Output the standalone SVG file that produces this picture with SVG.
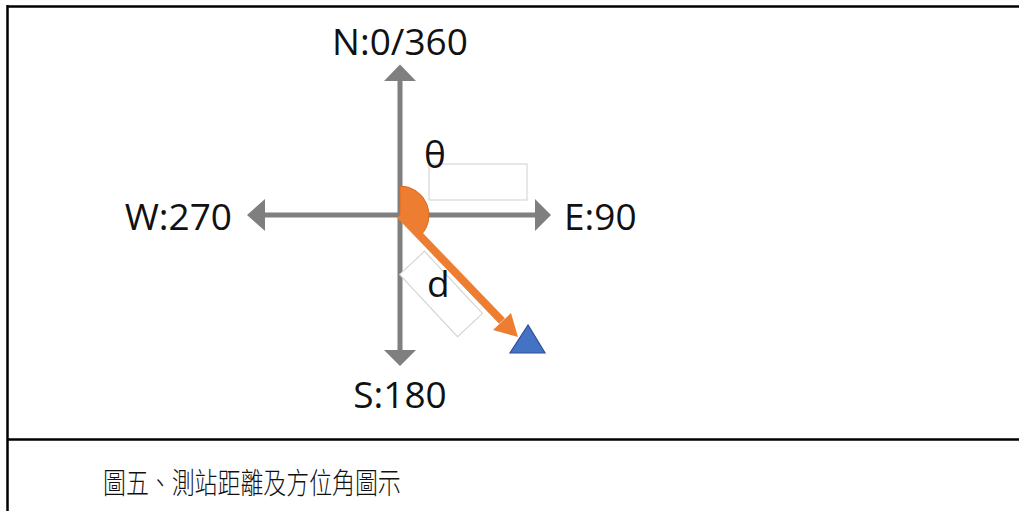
<svg xmlns="http://www.w3.org/2000/svg" width="1019" height="511" viewBox="0 0 1019 511">
<style>
.lbl{font-family:"Open Sans","Liberation Sans",sans-serif;font-size:37px;fill:#111}
.axis{stroke:#7f7f7f;stroke-width:5;fill:none}
.head{fill:#7f7f7f}
.box{fill:#fff;stroke:#cfcfcf;stroke-width:1}
.cap{font-family:"Noto Sans CJK TC","Noto Sans CJK SC",sans-serif;font-size:29px;font-weight:300;fill:#111}
</style>
<rect width="1019" height="511" fill="#fff"/>
<g id="frame" stroke="#000" stroke-width="2.5" fill="none">
<line x1="7.5" y1="6.5" x2="1019" y2="6.5"/>
<line x1="7.5" y1="5" x2="7.5" y2="511"/>
<line x1="7.5" y1="439.5" x2="1019" y2="439.5"/>
</g>
<g id="connectors">
<line class="axis" x1="400" y1="80" x2="400" y2="351"/>
<line class="axis" x1="264" y1="215" x2="536" y2="215"/>
<polygon class="head" points="400,64.5 384,81 416,81"/>
<polygon class="head" points="400,366 384,350 416,350"/>
<polygon class="head" points="247,215 265,199 265,231"/>
<polygon class="head" points="551,215 535,199 535,231"/>
</g>
<g id="theta-box"><rect class="box" x="429" y="164" width="98" height="36"/></g>
<g id="d-box"><rect class="box" x="398.5" y="277" width="85" height="34" transform="rotate(47 441 294)"/></g>
<g id="angle"><path d="M400,215 L400,186 A29,29 0 0 1 420.5,235.5 Z" fill="#ed7d31" stroke="#d86a22" stroke-width="1"/></g>
<g id="bearing">
<line x1="400" y1="215" x2="502" y2="321" stroke="#ed7d31" stroke-width="8"/>
<polygon points="518,337 493,330 511,313" fill="#ed7d31"/>
</g>
<g id="station"><polygon points="528,325 510,353 545,353" fill="#4472c4" stroke="#2f4f99" stroke-width="1.2"/></g>
<g id="labels">
<text class="lbl" x="400" y="55" text-anchor="middle">N:0/360</text>
<text class="lbl" x="400" y="408" text-anchor="middle">S:180</text>
<text class="lbl" x="232" y="230" text-anchor="end">W:270</text>
<text class="lbl" x="564" y="230">E:90</text>
<text class="lbl" x="424" y="168">θ</text>
<text class="lbl" x="427" y="297">d</text>
</g>
<g id="caption"><text class="cap" transform="translate(103 494) scale(0.79 1)">圖五、測站距離及方位角圖示</text></g>
</svg>
